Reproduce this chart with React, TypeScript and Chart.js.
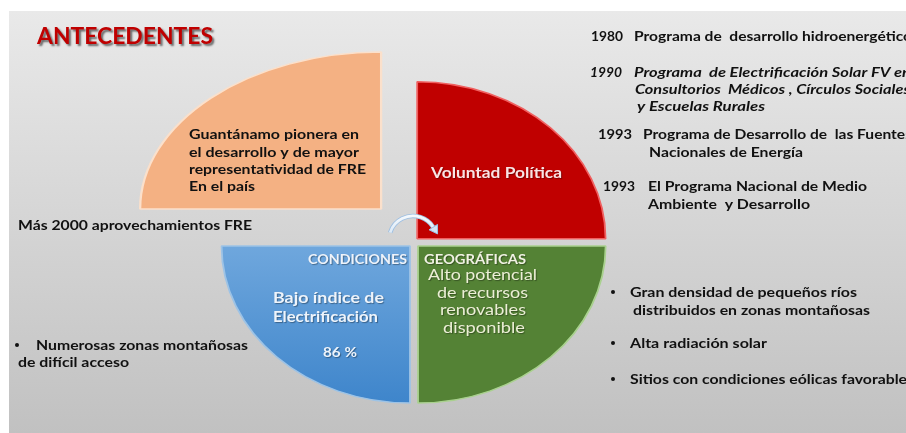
import React, { useEffect, useRef } from "react";
import { Chart, registerables } from "chart.js";

Chart.register(...registerables);

// ---- data ----
const categories = [
  "Voluntad Política",
  "Condiciones geográficas",
  "Bajo índice de Electrificación",
  "Guantánamo pionera",
];
const values = [1, 1, 1, 1];
const electrificationIndex = "86 %";

const titleText = "ANTECEDENTES";
const pioneerLines = [
  "Guantánamo pionera en",
  "el desarrollo y de mayor",
  "representatividad de FRE",
  "En el país",
];
const geoLines = ["Alto potencial", "de recursos", "renovables", "disponible"];
const electrLines = ["Bajo índice de", "Electrificación"];
const historyYears = ["1980", "1990", "1993", "1993"];
const historyItems = [
  ["Programa de  desarrollo hidroenergético"],
  ["Programa  de Electrificación Solar FV en", "Consultorios  Médicos , Círculos Sociales", "y Escuelas Rurales"],
  ["Programa de Desarrollo de  las Fuentes", "Nacionales de Energía"],
  ["El Programa Nacional de Medio", "Ambiente  y Desarrollo"],
];
const geoBullets = [
  ["Gran densidad de pequeños ríos", "distribuidos en zonas montañosas"],
  ["Alta radiación solar"],
  ["Sitios con condiciones eólicas favorables"],
];

// ---- styling ----
const fillColors = ["#c00000", "#548235", "blue-gradient", "#f4b183"];
const borderColors = ["#f06060", "#a9d18e", "#9dc3e6", "#fbe0cb"];
const explode = [4.5, 5.7, 5.7, 46.5];
const stretchX = [1.2, 1.195, 1.2, 1.535];

const FONT = "Lato, 'Open Sans', sans-serif";

function txt(
  ctx: CanvasRenderingContext2D,
  s: string,
  x: number,
  y: number,
  font: string,
  color: string,
  width?: number,
  align: "left" | "center" = "left"
) {
  ctx.save();
  ctx.font = font;
  ctx.fillStyle = color;
  ctx.textBaseline = "alphabetic";
  const w = ctx.measureText(s).width;
  const k = width ? width / w : 1;
  const x0 = align === "center" ? x - (w * k) / 2 : x;
  ctx.translate(x0, y);
  ctx.scale(k, 1);
  ctx.fillText(s, 0, 0);
  ctx.restore();
}

function bullet(ctx: CanvasRenderingContext2D, x: number, y: number) {
  ctx.save();
  ctx.fillStyle = "#111111";
  ctx.beginPath();
  ctx.arc(x, y, 2, 0, Math.PI * 2);
  ctx.fill();
  ctx.restore();
}

const backgroundPlugin = {
  id: "slideBackground",
  beforeDraw(chart: any) {
    const ctx = chart.ctx as CanvasRenderingContext2D;
    ctx.save();
    ctx.fillStyle = "#ffffff";
    ctx.fillRect(0, 0, chart.width, chart.height);
    const g = ctx.createLinearGradient(0, 11, 0, 433);
    g.addColorStop(0, "#e9e9e9");
    g.addColorStop(1, "#c1c1c1");
    ctx.fillStyle = g;
    ctx.fillRect(9, 11, chart.width - 9, chart.height - 11);
    ctx.restore();
  },
};

const quadrantPlugin = {
  id: "quadrants",
  beforeDatasetDraw(chart: any, args: any) {
    const ctx = chart.ctx as CanvasRenderingContext2D;
    const meta = args.meta;
    meta.data.forEach((el: any, i: number) => {
      const { x, y, startAngle, endAngle } = el.getProps(["x", "y", "startAngle", "endAngle"]);
      const mid = (startAngle + endAngle) / 2;
      const cx = x + Math.cos(mid) * explode[i];
      const cy = y + Math.sin(mid) * explode[i];
      ctx.save();
      ctx.translate(cx, cy);
      ctx.scale(stretchX[i], 1);
      ctx.translate(-x, -y);
      el.draw(ctx);
      ctx.restore();
    });
    return false;
  },
};

const textPlugin = {
  id: "slideText",
  afterDatasetsDraw(chart: any) {
    const ctx = chart.ctx as CanvasRenderingContext2D;
    const B = (px: number) => `bold ${px}px ${FONT}`;
    const BI = (px: number) => `italic bold ${px}px ${FONT}`;
    const R = (px: number) => `${px}px ${FONT}`;
    const dark = "#111111";

    // curved arrow
    ctx.save();
    const ax = 413, ay = 240, ar = 24;
    const a0 = Math.PI * 1.1, a1 = Math.PI * 1.82;
    ctx.beginPath();
    ctx.arc(ax, ay, ar, a0, a1);
    ctx.lineWidth = 4.5;
    ctx.strokeStyle = "#9dbfe2";
    ctx.stroke();
    ctx.beginPath();
    ctx.arc(ax, ay, ar, a0, a1);
    ctx.lineWidth = 2.8;
    const ag = ctx.createLinearGradient(0, 214, 0, 240);
    ag.addColorStop(0, "#f7fafd");
    ag.addColorStop(1, "#d3e3f3");
    ctx.strokeStyle = ag;
    ctx.stroke();
    const px = ax + ar * Math.cos(a1), py = ay + ar * Math.sin(a1);
    const tx = -Math.sin(a1), ty = Math.cos(a1);
    const nx = Math.cos(a1), ny = Math.sin(a1);
    ctx.beginPath();
    ctx.moveTo(px + tx * 8, py + ty * 8);
    ctx.lineTo(px + nx * 5, py + ny * 5);
    ctx.lineTo(px - nx * 5, py - ny * 5);
    ctx.closePath();
    ctx.fillStyle = "#d3e3f3";
    ctx.strokeStyle = "#9dbfe2";
    ctx.lineWidth = 1;
    ctx.fill();
    ctx.stroke();
    ctx.restore();

    // title with shadow
    ctx.save();
    ctx.shadowColor = "rgba(0,0,0,0.55)";
    ctx.shadowOffsetX = 2;
    ctx.shadowOffsetY = 2;
    ctx.shadowBlur = 2;
    txt(ctx, titleText, 37, 44, B(22), "#c00000", 176);
    ctx.restore();

    // orange slice text
    const pw = [170, 170, 177, 66];
    const py0 = [139, 157, 174, 191];
    pioneerLines.forEach((s, i) => txt(ctx, s, 189, py0[i], B(14), dark, pw[i]));

    // white texts on slices with faint shadow
    ctx.save();
    ctx.shadowColor = "rgba(0,0,0,0.35)";
    ctx.shadowOffsetX = 1;
    ctx.shadowOffsetY = 1;
    ctx.shadowBlur = 1;
    txt(ctx, categories[0], 431, 178, B(15), "#f9e4e4", 131);
    txt(ctx, "CONDICIONES", 308, 264, B(14), "#eef3fa", 99);
    txt(ctx, "GEOGRÁFICAS", 424, 264, B(14), "#f1f2e4", 102);
    const gw = [109, 91, 86, 82];
    const gy = [280, 298, 315, 333];
    const gx = [482.5, 482.5, 483, 484];
    geoLines.forEach((s, i) => txt(ctx, s, gx[i], gy[i], R(15), "#ecefd6", gw[i], "center"));
    txt(ctx, electrLines[0], 273, 303, B(15), "#eef4fb", 111);
    txt(ctx, electrLines[1], 273, 322, B(15), "#eef4fb", 105);
    txt(ctx, electrificationIndex, 323, 357, B(14), "#eef4fb", 34);
    ctx.restore();

    // left notes
    txt(ctx, "Más 2000 aprovechamientos FRE", 18, 230, B(14), dark, 234);
    bullet(ctx, 17, 345);
    txt(ctx, "Numerosas zonas montañosas", 36, 350, B(14), dark, 212);
    txt(ctx, "de difícil acceso", 18, 367, B(14), dark, 111);

    // history list
    txt(ctx, historyYears[0], 591, 41, B(14), dark, 32);
    txt(ctx, historyItems[0][0], 634, 41, B(14), dark, 278);
    txt(ctx, historyYears[1], 590, 77, BI(14), dark, 32);
    txt(ctx, historyItems[1][0], 634, 77, BI(14), dark, 277);
    txt(ctx, historyItems[1][1], 635, 94, BI(14), dark, 275);
    txt(ctx, historyItems[1][2], 637, 111, BI(14), dark, 128);
    txt(ctx, historyYears[2], 598, 139, B(14), dark, 34);
    txt(ctx, historyItems[2][0], 643, 139, B(14), dark, 269);
    txt(ctx, historyItems[2][1], 649, 157, B(14), dark, 154);
    txt(ctx, historyYears[3], 603, 191, B(14), dark, 32);
    txt(ctx, historyItems[3][0], 648, 191, B(14), dark, 219);
    txt(ctx, historyItems[3][1], 648, 209, B(14), dark, 162);

    // geo bullets
    bullet(ctx, 613, 292);
    txt(ctx, geoBullets[0][0], 630, 297, B(14), dark, 227);
    txt(ctx, geoBullets[0][1], 633, 315, B(14), dark, 237);
    bullet(ctx, 613, 343);
    txt(ctx, geoBullets[1][0], 630, 348, B(14), dark, 137);
    bullet(ctx, 613, 379);
    txt(ctx, geoBullets[2][0], 630, 384, B(14), dark, 284);
  },
};

export default function App() {
  const ref = useRef<HTMLCanvasElement | null>(null);
  useEffect(() => {
    const canvas = ref.current;
    if (!canvas) return;
    const chart = new Chart(canvas, {
      type: "pie",
      data: {
        labels: categories,
        datasets: [
          {
            data: values,
            backgroundColor: (c: any) => {
              const col = fillColors[c.dataIndex];
              if (col !== "blue-gradient") return col;
              const g = c.chart.ctx.createLinearGradient(0, 242, 0, 400);
              g.addColorStop(0, "#6fa7dd");
              g.addColorStop(1, "#3e85cb");
              return g;
            },
            borderColor: borderColors,
            borderWidth: 1.5,
            hoverOffset: 0,
          },
        ],
      },
      options: {
        responsive: false,
        animation: false,
        devicePixelRatio: 1,
        radius: 157,
        layout: { padding: { left: 100, right: 178, top: 51, bottom: 0 } },
        plugins: {
          legend: { display: false },
          tooltip: { enabled: false },
          title: { display: false },
        },
        events: [],
      } as any,
      plugins: [backgroundPlugin, quadrantPlugin, textPlugin],
    });
    return () => chart.destroy();
  }, []);
  return (
    <div style={{ position: "absolute", left: 0, top: 0, width: 906, height: 433 }}>
      <canvas ref={ref} width={906} height={433} style={{ display: "block" }} />
    </div>
  );
}
